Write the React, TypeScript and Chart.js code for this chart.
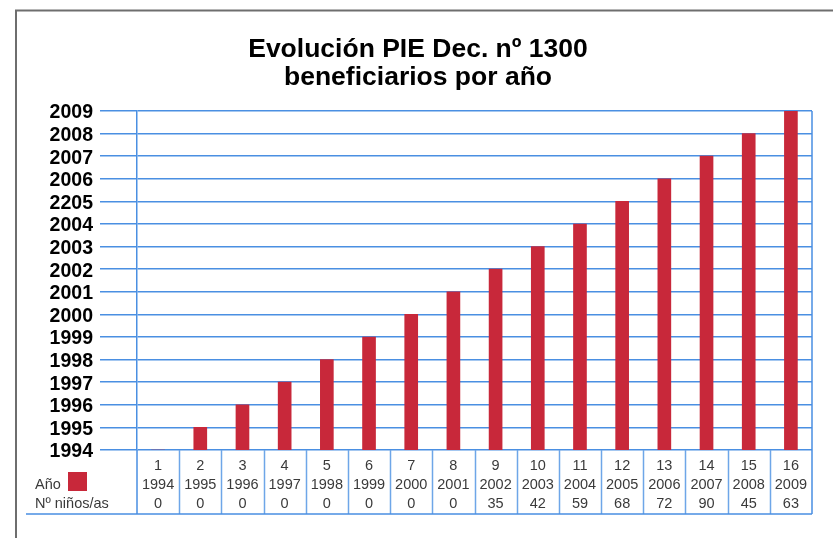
import React, { useEffect, useRef } from 'react';
import { Chart, registerables } from 'chart.js';

Chart.register(...registerables);

// ---- data ----
const columnNumbers = [1, 2, 3, 4, 5, 6, 7, 8, 9, 10, 11, 12, 13, 14, 15, 16];
const years = [1994, 1995, 1996, 1997, 1998, 1999, 2000, 2001, 2002, 2003, 2004, 2005, 2006, 2007, 2008, 2009];
const childrenCounts = [0, 0, 0, 0, 0, 0, 0, 0, 35, 42, 59, 68, 72, 90, 45, 63];
const yTickLabels = ['1994', '1995', '1996', '1997', '1998', '1999', '2000', '2001', '2002', '2003', '2004', '2205', '2006', '2007', '2008', '2009'];
const titleLines = ['Evolución PIE Dec. nº 1300', 'beneficiarios por año'];
const rowLabels = ['Año', 'Nº niños/as'];

// ---- styles ----
const FONT = '"Liberation Sans", Arial, Helvetica, sans-serif';
const BAR_COLOR = '#c8283a';
const GRID_COLOR = '#4a8fe2';
const TABLE_LINE = '#6ea6e8';
const TABLE_TEXT = '#3a3a3a';

const decorPlugin = {
  id: 'decor',
  beforeDraw(chart: any) {
    const { ctx } = chart;
    ctx.save();
    ctx.fillStyle = '#ffffff';
    ctx.fillRect(0, 0, chart.width, chart.height);
    // outer frame
    ctx.strokeStyle = '#6e6e6e';
    ctx.lineWidth = 2;
    ctx.beginPath();
    ctx.moveTo(16, chart.height);
    ctx.lineTo(16, 10.5);
    ctx.lineTo(chart.width, 10.5);
    ctx.stroke();
    // title
    ctx.fillStyle = '#000000';
    ctx.font = `bold 26.5px ${FONT}`;
    ctx.textAlign = 'center';
    ctx.textBaseline = 'alphabetic';
    ctx.fillText(titleLines[0], 418, 57);
    ctx.fillText(titleLines[1], 418, 85);
    ctx.restore();
  },
  afterDraw(chart: any) {
    const { ctx, chartArea } = chart;
    const xScale = chart.scales.x;
    const n = years.length;
    const top = chartArea.bottom;
    const bottom = top + 64;
    const colW = (chartArea.right - chartArea.left) / n;
    ctx.save();
    // inner table column lines
    ctx.strokeStyle = TABLE_LINE;
    ctx.lineWidth = 1.5;
    ctx.beginPath();
    for (let i = 1; i < n; i++) {
      const xx = Math.round(chartArea.left + i * colW) + 0.5;
      ctx.moveTo(xx, top);
      ctx.lineTo(xx, bottom);
    }
    ctx.stroke();
    // outer lines
    ctx.strokeStyle = GRID_COLOR;
    ctx.beginPath();
    ctx.moveTo(chartArea.left, top);
    ctx.lineTo(chartArea.left, bottom);
    ctx.moveTo(chartArea.right, chartArea.top);
    ctx.lineTo(chartArea.right, bottom);
    ctx.moveTo(26, bottom);
    ctx.lineTo(chartArea.right, bottom);
    ctx.stroke();
    // table text
    ctx.fillStyle = TABLE_TEXT;
    ctx.font = `14.5px ${FONT}`;
    ctx.textAlign = 'center';
    ctx.textBaseline = 'middle';
    const rows = [top + 16, top + 35, top + 53.5];
    for (let i = 0; i < n; i++) {
      const cx = xScale.getPixelForValue(i);
      ctx.fillText(String(columnNumbers[i]), cx, rows[0]);
      ctx.fillText(String(years[i]), cx, rows[1]);
      ctx.fillText(String(childrenCounts[i]), cx, rows[2]);
    }
    // row labels + legend swatch
    ctx.textAlign = 'left';
    ctx.fillText(rowLabels[0], 35, rows[1]);
    ctx.fillText(rowLabels[1], 35, rows[2]);
    ctx.fillStyle = BAR_COLOR;
    ctx.fillRect(68, top + 22, 19, 19);
    ctx.restore();
  },
};

export default function App() {
  const canvasRef = useRef<HTMLCanvasElement | null>(null);

  useEffect(() => {
    const canvas = canvasRef.current;
    if (!canvas) return;
    const chart = new Chart(canvas, {
      type: 'bar',
      data: {
        labels: columnNumbers.map(String),
        datasets: [
          {
            label: rowLabels[0],
            data: years,
            backgroundColor: BAR_COLOR,
            borderWidth: 0,
            barThickness: 13,
          },
        ],
      },
      options: {
        responsive: false,
        maintainAspectRatio: false,
        animation: false,
        layout: { padding: { top: 111, left: 0, right: 21, bottom: 88 } },
        plugins: {
          legend: { display: false },
          tooltip: { enabled: false },
          title: { display: false },
        },
        scales: {
          x: { display: false },
          y: {
            min: years[0],
            max: years[years.length - 1],
            afterFit: (scale: any) => {
              scale.width = 137;
            },
            ticks: {
              stepSize: 1,
              autoSkip: false,
              padding: 7,
              labelOffset: 2,
              color: '#000000',
              font: { family: FONT, size: 19.5, weight: 'bold' },
              callback: (v: any) => {
                const idx = years.indexOf(Number(v));
                return idx >= 0 ? yTickLabels[idx] : '';
              },
            },
            grid: {
              color: GRID_COLOR,
              lineWidth: 1.5,
              tickLength: 37,
              tickColor: GRID_COLOR,
            },
            border: { color: GRID_COLOR, width: 1.5 },
          },
        },
      },
      plugins: [decorPlugin],
    });
    return () => chart.destroy();
  }, []);

  return (
    <div style={{ position: 'absolute', left: 0, top: 0, width: 833, height: 538, background: '#fff' }}>
      <canvas ref={canvasRef} width={833} height={538} />
    </div>
  );
}
